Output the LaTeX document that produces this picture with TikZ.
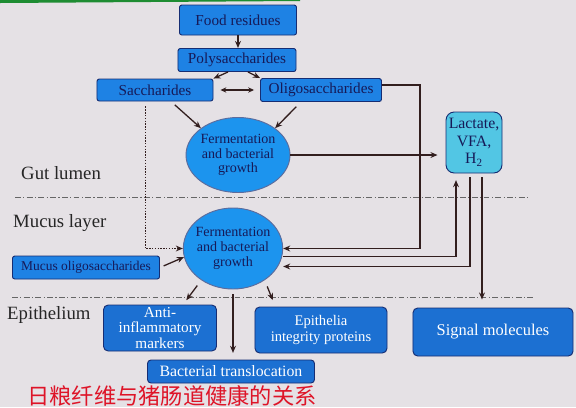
\documentclass[tikz,border=0pt]{standalone}
\usepackage{fontspec}
\setmainfont{Liberation Serif}
\newfontfamily\cjkfont{Noto Sans CJK SC}
\usepackage{xcolor}
\usetikzlibrary{shapes.geometric,arrows.meta,positioning}
\definecolor{slidebg}{RGB}{229,225,229}
\definecolor{boxcolor}{RGB}{30,130,228}
\definecolor{darkbox}{RGB}{28,112,210}
\definecolor{edgecolor}{RGB}{22,45,115}
\definecolor{navytext}{RGB}{22,26,88}
\definecolor{cellcolor}{RGB}{28,148,238}
\definecolor{acidcolor}{RGB}{82,198,228}
\definecolor{linecolor}{RGB}{50,30,30}
\definecolor{titlered}{RGB}{222,20,40}
\definecolor{slidegreen}{RGB}{30,140,50}

\begin{document}
\begin{tikzpicture}[
    x=0.03cm, y=-0.03cm,
    box/.style={rectangle, rounded corners=2pt, draw=edgecolor, line width=0.8pt, fill=boxcolor, text=navytext, inner sep=1pt, align=center, font=\fontsize{13}{14}\selectfont},
    outbox/.style={box, fill=darkbox, text=white, rounded corners=4pt},
    cell/.style={ellipse, draw=edgecolor!70, line width=0.8pt, fill=cellcolor, text=navytext, inner sep=-2pt, align=center, minimum width=3.12cm, minimum height=2.25cm, font=\fontsize{12}{12.5}\selectfont},
    layer/.style={anchor=west, inner sep=0pt, text=black!85, font=\fontsize{16}{18}\selectfont},
    border/.style={draw=black!60, line width=0.8pt, dash pattern=on 5pt off 2pt on 1pt off 2pt},
    arrow/.style={-{Stealth[length=6pt,width=5pt]}, line width=1.1pt, draw=linecolor}
]
\fill[slidebg] (0,0) rectangle (576,407);
\useasboundingbox (0,0) rectangle (576,407);
\fill[slidegreen] (0,0) -- (300,0) -- (300,1) -- (0,3) -- cycle;

\node[box, minimum width=3.51cm, minimum height=0.9cm] (food) at (238,20) {Food residues};
\node[box, minimum width=3.54cm, minimum height=0.69cm] (poly) at (237,60) {Polysaccharides};
\node[box, minimum width=3.48cm, minimum height=0.66cm] (sacch) at (155,90) {Saccharides};
\node[box, minimum width=3.63cm, minimum height=0.69cm] (oligo) at (321,90) {Oligosaccharides};
\node[cell] (ferm1) at (238,155) {Fermentation\\and bacterial\\growth};
\node[box, fill=acidcolor, rounded corners=7pt, minimum width=1.68cm, minimum height=1.83cm, font=\fontsize{13.5}{15}\selectfont] (acid) at (474,142.5) {Lactate,\\VFA,\\H\textsubscript{2}};

\node[cell, minimum width=2.97cm, minimum height=2.43cm] (ferm2) at (233,248.5) {Fermentation\\and bacterial\\growth};
\node[box, minimum width=4.41cm, minimum height=0.69cm, font=\fontsize{11.5}{12}\selectfont] (mucus) at (86,267.5) {Mucus oligosaccharides};

\node[outbox, minimum width=3.39cm, minimum height=1.38cm, font=\fontsize{13}{13.5}\selectfont] (anti) at (160,328) {Anti-\\inflammatory\\markers};
\node[outbox, minimum width=3.96cm, minimum height=1.38cm, font=\fontsize{12.5}{14}\selectfont] (integ) at (321,330) {Epithelia\\integrity proteins};
\node[outbox, minimum width=4.8cm, minimum height=1.44cm, font=\fontsize{14}{15}\selectfont] (signal) at (493,332) {Signal molecules};
\node[outbox, minimum width=5.01cm, minimum height=0.69cm, rounded corners=3pt, font=\fontsize{13.5}{14}\selectfont] (transloc) at (231,371.5) {Bacterial translocation};

\node[layer] (lumen) at (21,173) {Gut lumen};
\node[layer] (mucuslayer) at (13,223) {Mucus layer};
\node[layer] (epith) at (7,315) {Epithelium};
\node[anchor=west, inner sep=0pt, text=titlered, font=\cjkfont\fontsize{19}{20}\selectfont] (title) at (27,396) {日粮纤维与猪肠道健康的关系};

\draw[border] (15,197) -- (530,197);
\draw[border] (12,297) -- (533,297);

\draw[arrow] (food.south) -- (food.south |- poly.north);
\draw[arrow] ([xshift=-0.27cm]poly.south) -- (sacch.north east);
\draw[arrow] ([xshift=0.33cm]poly.south) -- (oligo.north west);
\draw[{Stealth[length=5pt,width=4.5pt]}-{Stealth[length=5pt,width=4.5pt]}, line width=1.1pt, draw=linecolor] ([xshift=0.21cm]sacch.east) -- ([xshift=-0.18cm]oligo.west);
\draw[arrow, shorten <=0.15cm] ([xshift=0.48cm]sacch.south) -- (ferm1.north west);
\draw[arrow, shorten <=0.2cm] ([xshift=-0.6cm]oligo.south) -- (ferm1.north east);
\draw[arrow, shorten >=0.24cm] (ferm1.east) -- (ferm1.east -| acid.west);
\draw[arrow, line width=0.7pt, dash pattern=on 1.2pt off 1.2pt, shorten <=0.15cm] ([xshift=-0.3cm]sacch.south) |- (ferm2.west);
\draw[arrow] ([yshift=0.15cm]oligo.east) -- ++(38,0) |- (ferm2.east);
\draw[arrow, shorten >=0.2cm] ([yshift=-0.24cm]ferm2.east) -| ([xshift=-0.54cm]acid.south);
\draw[arrow, shorten <=0.12cm] ([xshift=-0.12cm]acid.south) |- ([yshift=-0.54cm]ferm2.east);
\draw[arrow, line width=1.8pt, shorten <=0.12cm, shorten >=0.24cm] ([xshift=0.24cm]acid.south) -- ([xshift=0.24cm]acid.south |- signal.north);
\draw[arrow, shorten <=0.12cm] (mucus.east) -- (ferm2.190);
\draw[arrow, shorten <=0.2cm] (ferm2.225) -- ++(-15,20);
\draw[arrow, shorten <=0.2cm] (ferm2.-45) -- ++(8,20);
\draw[arrow, shorten <=0.15cm, shorten >=0.2cm] (ferm2.south) -- (ferm2.south |- transloc.north);
\end{tikzpicture}
\end{document}
